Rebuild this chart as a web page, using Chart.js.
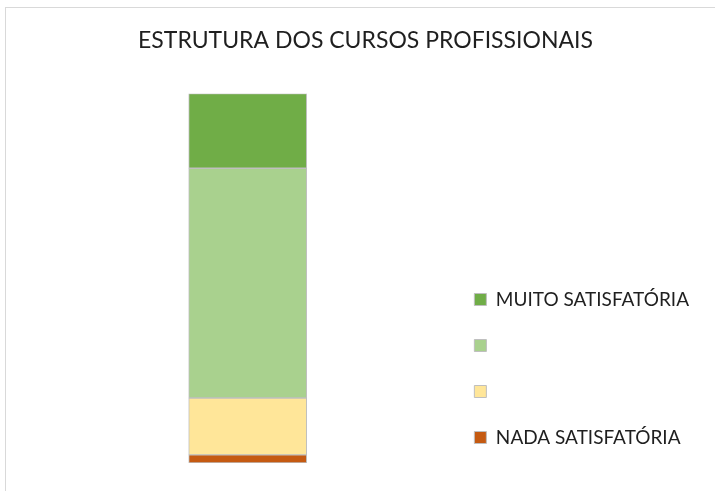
<!DOCTYPE html>
<html>
<head>
<meta charset="utf-8">
<script src="https://cdn.jsdelivr.net/npm/chart.js@4/dist/chart.umd.min.js"></script>
<style>
  body { margin: 0; background: #fff; }
  .moldura { position: absolute; left: 5px; top: 7px; width: 720px; height: 500px; border: 1px solid #d9d9d9; }
  #grafico { position: absolute; left: 0; top: 0; }
</style>
</head>
<body>
<div class="moldura"></div>
<canvas id="grafico" width="715" height="491"></canvas>
<script>
const ctx = document.getElementById('grafico')

// categoria unica (eixo escondido)
const categorias = ['']
// series de baixo para cima, em %
const niveis = ['NADA SATISFATÓRIA', '', '', 'MUITO SATISFATÓRIA']
const valores = [2.2, 15.4, 62.2, 20.2]
const cores = ['#c55a11', '#ffe699', '#a9d18e', '#70ad47']

const datasets = niveis.map((nivel, i) => ({
  label: nivel,
  data: [valores[i]],
  backgroundColor: cores[i],
  borderColor: '#bfbfbf',
  borderWidth: 1,
  borderSkipped: false,
  barThickness: 118
}))

// ajustes finos: legenda um pouco pra baixo, titulo um pouco pra esquerda
const ajustes = {
  id: 'ajustes',
  afterLayout(chart) {
    chart.legend.top += 11
    chart.legend.bottom += 11
    chart.titleBlock.left -= 8
    chart.titleBlock.right -= 8
  }
}

const chart = new Chart(ctx, {
  type: 'bar',
  data: {
    labels: categorias,
    datasets: datasets
  },
  plugins: [ajustes],
  options: {
    responsive: false,
    animation: false,
    layout: {
      padding: { left: 48, right: 16, top: 0, bottom: 28 }
    },
    scales: {
      x: { stacked: true, display: false },
      y: { stacked: true, display: false, min: 0, max: 100 }
    },
    plugins: {
      tooltip: { enabled: false },
      title: {
        display: true,
        text: 'ESTRUTURA DOS CURSOS PROFISSIONAIS',
        color: '#1f1f1f',
        font: { family: 'Lato', size: 23, weight: 'normal' },
        padding: { top: 27, bottom: 39 }
      },
      legend: {
        position: 'right',
        align: 'end',
        reverse: true,
        labels: {
          color: '#1f1f1f',
          font: { family: 'Lato', size: 19 },
          boxWidth: 12,
          boxHeight: 12,
          padding: 27
        }
      }
    }
  }
})
</script>
</body>
</html>
